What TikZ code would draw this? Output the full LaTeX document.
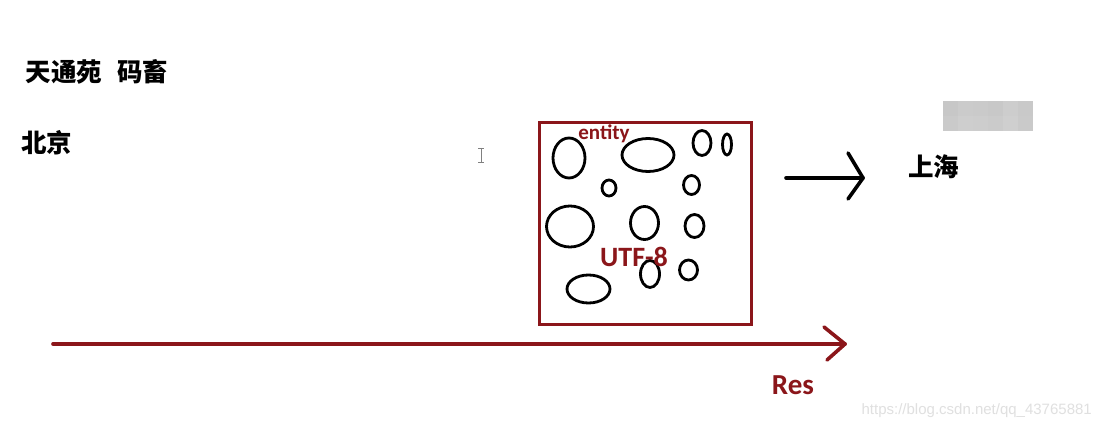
\documentclass[tikz,border=0pt]{standalone}
\usepackage{fontspec}
\setmainfont{Carlito}
\newfontfamily\cjk{Noto Sans CJK SC}
\newfontfamily\wmfont{Liberation Sans}
\definecolor{dred}{RGB}{139,22,26}
\tikzset{
  cjktext/.style={font=\cjk\bfseries\fontsize{25.5}{27}\selectfont, text=black, inner sep=0pt, anchor=west},
  redtext/.style={text=dred, inner sep=0pt},
  blob/.style={draw=black, line width=2.8pt},
  stroke/.style={line width=3.6pt, line cap=round, line join=round},
}
\begin{document}
\begin{tikzpicture}[x=1pt,y=-1pt]
\useasboundingbox[fill=white] (0,0) rectangle (1100,430);

% texts
\node[cjktext] (tty) at (25.5,72) {天通苑\hspace{15pt}码畜};
\node[cjktext] (bj) at (21,143) {北京};
\node[cjktext] (sh) at (908,167) {上海};

% censored block
\foreach \i/\a/\b in {0/87/82,1/80/76,2/82/78,3/85/80,4/78/74,5/84/82}{
  \fill[black!\a!white, fill opacity=0.25] (943+15*\i,101) rectangle ++(15,15);
  \fill[black!\b!white, fill opacity=0.25] (943+15*\i,116) rectangle ++(15,15);
}

% text cursor
\draw[gray, line width=0.9pt] (481,148) -- (481,162);
\draw[gray, line width=0.9pt] (478,148) -- (484,148) (478,162) -- (484,162);

% box
\node[draw=dred, line width=3pt, minimum width=212pt, minimum height=201pt, inner sep=0pt] (box) at (645,223.5) {};

% blobs
\draw[blob] (569,158) ellipse [x radius=16pt, y radius=20pt];
\draw[blob] (648,155) ellipse [x radius=26pt, y radius=16.5pt];
\draw[blob] (702,143) ellipse [x radius=9pt, y radius=12.5pt];
\draw[blob] (727,144.5) ellipse [x radius=4.5pt, y radius=10.5pt];
\draw[blob] (609,188) ellipse [x radius=7pt, y radius=8pt];
\draw[blob] (691.5,185) ellipse [x radius=8pt, y radius=9.5pt];
\draw[blob] (570,226.5) ellipse [x radius=23.5pt, y radius=20.5pt];
\draw[blob] (644.5,223) ellipse [x radius=14pt, y radius=16.5pt];
\draw[blob] (694.5,226) ellipse [x radius=9.5pt, y radius=11.5pt];
\draw[blob] (650,274) ellipse [x radius=9.5pt, y radius=13.5pt];
\draw[blob] (688.5,270) ellipse [x radius=9pt, y radius=10pt];
\draw[blob] (588.5,289) ellipse [x radius=21.5pt, y radius=14pt];

% red labels
\node[redtext, font=\bfseries\fontsize{21}{23}\selectfont] (entity) at (604,134) {entity};
\node[redtext, font=\bfseries\fontsize{28}{30}\selectfont] (utf) at (634,257) {UTF-8};
\node[redtext, font=\bfseries\fontsize{29}{31}\selectfont] (res) at (793,385) {Res};

% black arrow
\coordinate (ba0) at (786,178);
\coordinate (ba1) at (863,178);
\coordinate (bu) at (848,153);
\coordinate (bd) at (848,199);
\draw[stroke, black] (ba0) -- (ba1);
\draw[stroke, black] (bu) -- (ba1) -- (bd);

% red arrow
\coordinate (ra0) at (53,344);
\coordinate (ra1) at (845,344);
\coordinate (ru) at (824,327);
\coordinate (rd) at (827,360);
\draw[stroke, dred] (ra0) -- (ra1);
\draw[stroke, dred] (ru) -- (ra1) -- (rd);

% watermark
\node[font=\wmfont\fontsize{15}{17}\selectfont, text=black!12, inner sep=0pt, anchor=east] (wm) at (1092,411) {https://blog.csdn.net/qq\_43765881};
\end{tikzpicture}
\end{document}
